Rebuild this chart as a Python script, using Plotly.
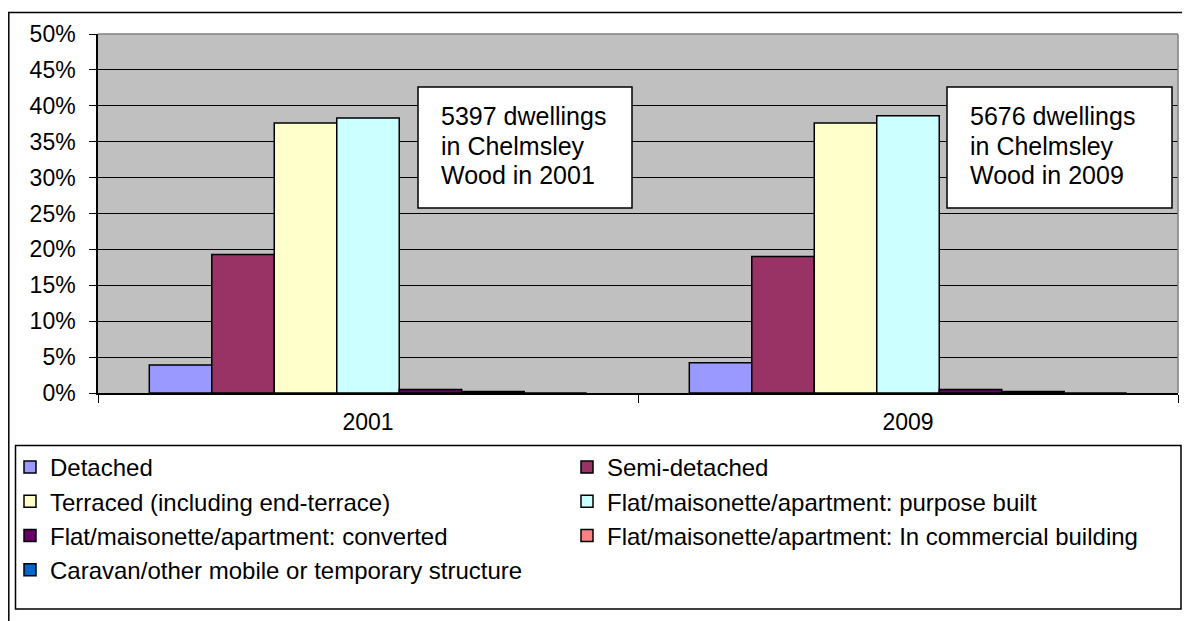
import plotly.graph_objects as go

FONT = "Liberation Sans, Arial, sans-serif"

years = ["2001", "2009"]

detached = [3.9, 4.2]
semi_detached = [19.3, 19.0]
terraced = [37.6, 37.6]
flat_purpose_built = [38.3, 38.6]
flat_converted = [0.5, 0.5]
flat_commercial = [0.2, 0.2]
caravan = [0.0, 0.0]

# left legend column gets "legend", right column "legend2"
series = [
    ("Detached", detached, "#9999FF", "legend"),
    ("Semi-detached", semi_detached, "#993366", "legend2"),
    ("Terraced (including end-terrace)", terraced, "#FFFFCC", "legend"),
    ("Flat/maisonette/apartment: purpose built", flat_purpose_built, "#CCFFFF", "legend2"),
    ("Flat/maisonette/apartment: converted", flat_converted, "#660066", "legend"),
    ("Flat/maisonette/apartment: In commercial building", flat_commercial, "#FF8080", "legend2"),
    ("Caravan/other mobile or temporary structure", caravan, "#0066CC", "legend"),
]

notes = [
    ["5397 dwellings", "in Chelmsley", "Wood in 2001"],
    ["5676 dwellings", "in Chelmsley", "Wood in 2009"],
]

# the page body has an 8px margin, so the figure starts at (8, 8) on screen
PAGE = 8
# plot area in screen pixels
L, R, T, B = 98, 1178, 34, 393
W, H = R - L, B - T


def px_x(p):
    return (p - L) / W


def px_y(p):
    return (B - p) / H


fig = go.Figure()
for name, vals, color, leg in series:
    fig.add_bar(
        x=years, y=vals, name=name,
        marker=dict(color=color, line=dict(color="black", width=1.5)),
        legend=leg,
    )

legend_common = dict(
    orientation="v", xanchor="left", yanchor="top", y=px_y(445),
    font=dict(family=FONT, size=24, color="black"),
    bgcolor="rgba(0,0,0,0)", borderwidth=0,
)

fig.update_layout(
    width=1190 - PAGE, height=621 - PAGE,
    margin=dict(l=L - PAGE, r=1190 - R, t=T - PAGE, b=621 - B, autoexpand=False),
    paper_bgcolor="white",
    plot_bgcolor="#C0C0C0",
    barmode="group", bargap=0.19, bargroupgap=0,
    font=dict(family=FONT, size=23, color="black"),
    legend=dict(legend_common, x=px_x(10)),
    legend2=dict(legend_common, x=px_x(567)),
)

fig.update_yaxes(
    range=[0, 50], dtick=5, ticksuffix="%",
    showgrid=True, gridcolor="black", gridwidth=1,
    showline=True, linecolor="black", linewidth=1.5,
    ticks="outside", ticklen=7, tickcolor="black", ticklabelstandoff=9,
    tickfont=dict(family=FONT, size=23, color="black"),
    zeroline=False,
)
fig.update_xaxes(
    showgrid=False, showline=True, linecolor="black", linewidth=1.5,
    ticks="outside", ticklen=8, tickcolor="black", tickson="boundaries",
    ticklabelstandoff=8,
    tickfont=dict(family=FONT, size=23, color="black"),
)

# plot area top/right border
fig.add_shape(type="line", xref="paper", yref="paper", x0=0, x1=1, y0=1, y1=1,
              line=dict(color="#808080", width=1.5))
fig.add_shape(type="line", xref="paper", yref="paper", x0=1, x1=1, y0=0, y1=1,
              line=dict(color="#808080", width=1.5))

# note boxes
boxes = [(418, 632, 439), (947, 1172, 968)]
line_y = [116, 145.5, 175]
for (bx0, bx1, tx), lines in zip(boxes, notes):
    fig.add_shape(type="rect", xref="paper", yref="paper",
                  x0=px_x(bx0), x1=px_x(bx1), y0=px_y(208), y1=px_y(87),
                  fillcolor="white", line=dict(color="black", width=1.5))
    for ly, text in zip(line_y, lines):
        fig.add_annotation(xref="paper", yref="paper", x=px_x(tx), y=px_y(ly),
                           xanchor="left", yanchor="middle", align="left",
                           text=text, showarrow=False,
                           font=dict(family=FONT, size=25, color="black"))

# legend frame
fig.add_shape(type="rect", xref="paper", yref="paper",
              x0=px_x(15.5), x1=px_x(1181), y0=px_y(609), y1=px_y(445.5),
              line=dict(color="black", width=1.5))
# outer chart frame
fig.add_shape(type="rect", xref="paper", yref="paper",
              x0=px_x(8.8), x1=px_x(1205), y0=px_y(640), y1=px_y(12.5),
              line=dict(color="black", width=1.5))

fig.write_html("out.html")
